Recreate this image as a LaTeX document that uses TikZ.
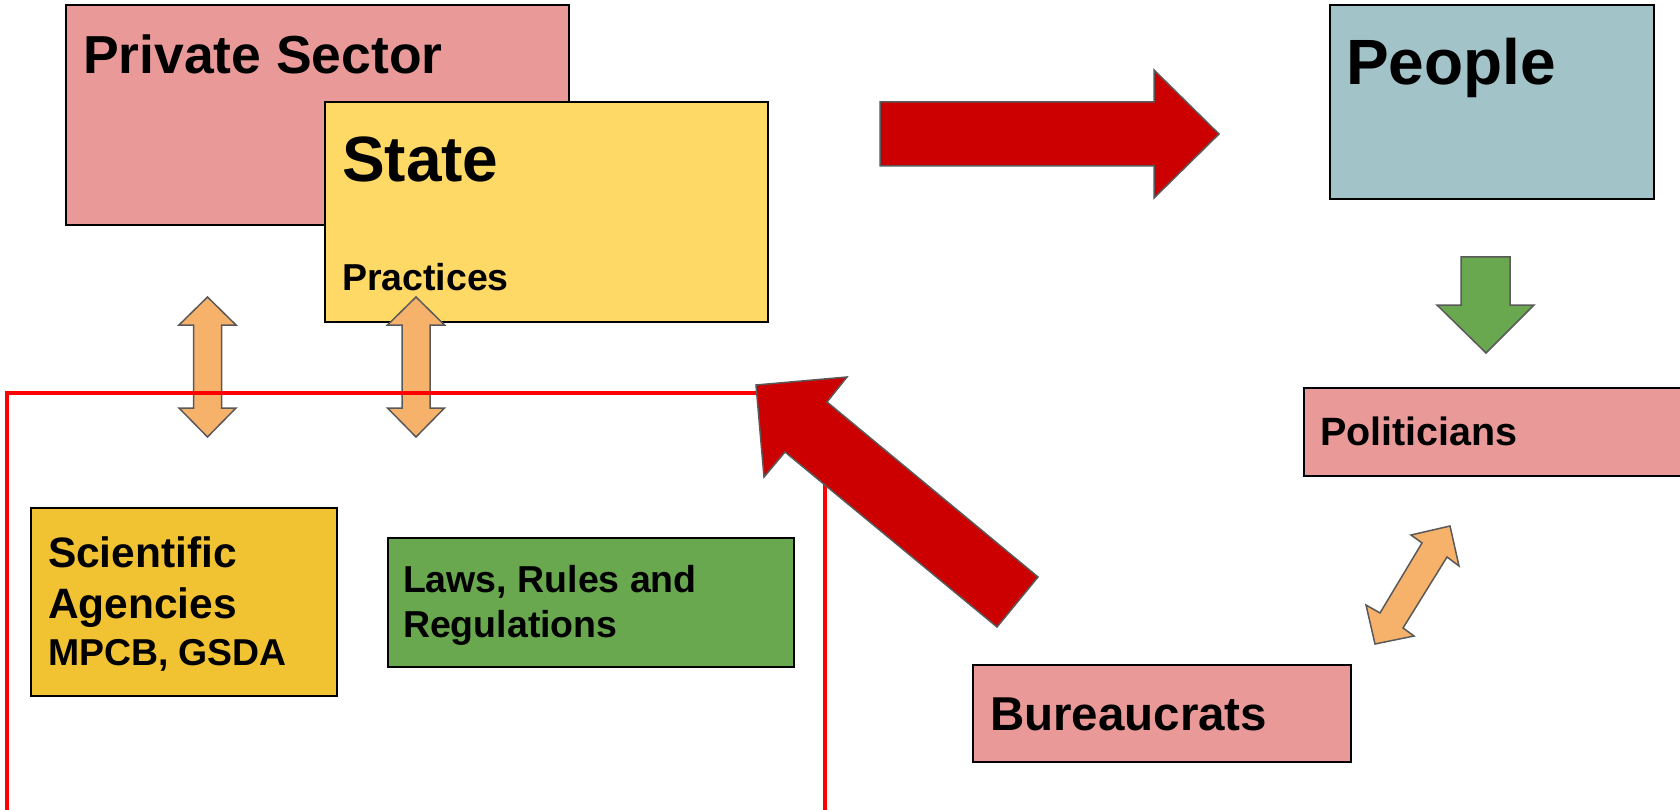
\documentclass[tikz,border=0pt]{standalone}
\usepackage{fontspec}
\setmainfont{Liberation Sans}
\definecolor{cpink}{HTML}{EA9999}
\definecolor{cyellow}{HTML}{FFD966}
\definecolor{ccyan}{HTML}{A2C4C9}
\definecolor{cgold}{HTML}{F1C232}
\definecolor{cgreen}{HTML}{6AA84F}
\definecolor{cdred}{HTML}{CC0000}
\definecolor{corange}{HTML}{F6B26B}
\definecolor{cframe}{HTML}{FF0000}
\definecolor{cedge}{HTML}{595959}
\tikzset{
  box/.style={draw=black, line width=2pt, rectangle, anchor=north west, inner sep=0pt, outer sep=0pt},
  lbl/.style={anchor=base west, inner sep=0pt, outer sep=0pt, text=black},
  blockarrow/.style={draw=cedge, line width=1.5pt, line join=miter},
  frame/.style={draw=cframe, line width=3.5pt},
}
\newcommand{\fs}[1]{\fontsize{#1}{#1}\selectfont\bfseries}
\begin{document}
\begin{tikzpicture}[x=1pt,y=-1pt]
\useasboundingbox (0,0) rectangle (1680,810);
% boxes
\node[box, fill=cpink, minimum width=503pt, minimum height=220pt] (priv) at (66,5) {};
\node[box, fill=cyellow, minimum width=443pt, minimum height=220pt] (state) at (325,102) {};
\node[box, fill=ccyan, minimum width=324pt, minimum height=194pt] (people) at (1330,5) {};
\node[box, fill=cpink, minimum width=386pt, minimum height=88pt] (polit) at (1304,388) {};
\node[box, fill=cpink, minimum width=378pt, minimum height=97pt] (bureau) at (973,665) {};
\node[box, fill=cgold, minimum width=306pt, minimum height=188pt] (sci) at (31,508) {};
\node[box, fill=cgreen, minimum width=406pt, minimum height=129pt] (laws) at (388,538) {};
% texts
\node[lbl, font=\fs{53.5}] (privt) at (83,74) {Private Sector};
\node[lbl, font=\fs{64}] (statet) at (342,182) {State};
\node[lbl, font=\fs{37.5}] (pract) at (342,290) {Practices};
\node[lbl, font=\fs{64}] (peoplet) at (1346,85) {People};
\node[lbl, font=\fs{39.5}] (polt) at (1320,445) {Politicians};
\node[lbl, font=\fs{47.5}] (burt) at (990,730) {Bureaucrats};
\node[lbl, font=\fs{42.5}] (scit1) at (48,567) {Scientific};
\node[lbl, font=\fs{42.5}] (scit2) at (48,618) {Agencies};
\node[lbl, font=\fs{37.4}] (scit3) at (48,665) {MPCB, GSDA};
\node[lbl, font=\fs{37.5}] (lawt1) at (403,592) {Laws, Rules and};
\node[lbl, font=\fs{37.5}] (lawt2) at (403,637) {Regulations};
% red right arrow
\draw[blockarrow, fill=cdred] (880,102) -- (1154,102) -- (1154,70) -- (1219,134) -- (1154,198) -- (1154,166) -- (880,166) -- cycle;
% green down arrow
\draw[blockarrow, fill=cgreen] (1461,257) -- (1510,257) -- (1510,305) -- (1534,305) -- (1486,353) -- (1437,305) -- (1461,305) -- cycle;
% orange vertical double arrows
\foreach \cx in {207.5,416} {
  \draw[blockarrow, fill=corange, shift={(\cx,0)}] (-14,325) -- (-28.5,325) -- (0,297) -- (28.5,325) -- (14,325) -- (14,408) -- (28.5,408) -- (0,437) -- (-28.5,408) -- (-14,408) -- cycle;
}
% orange diagonal double arrow
\draw[blockarrow, fill=corange] (1450,526) -- (1459,566) -- (1447,557) -- (1403,628) -- (1414,636) -- (1375,644) -- (1366,605) -- (1380,613) -- (1422,543) -- (1411,535) -- cycle;
% red frame
\draw[frame] (7,393) rectangle (825,815);
% red diagonal arrow
\draw[blockarrow, fill=cdred] (756,385) -- (847,377) -- (827,402) -- (1038,577) -- (997,627) -- (785,452) -- (764,477) -- cycle;
\end{tikzpicture}
\end{document}
